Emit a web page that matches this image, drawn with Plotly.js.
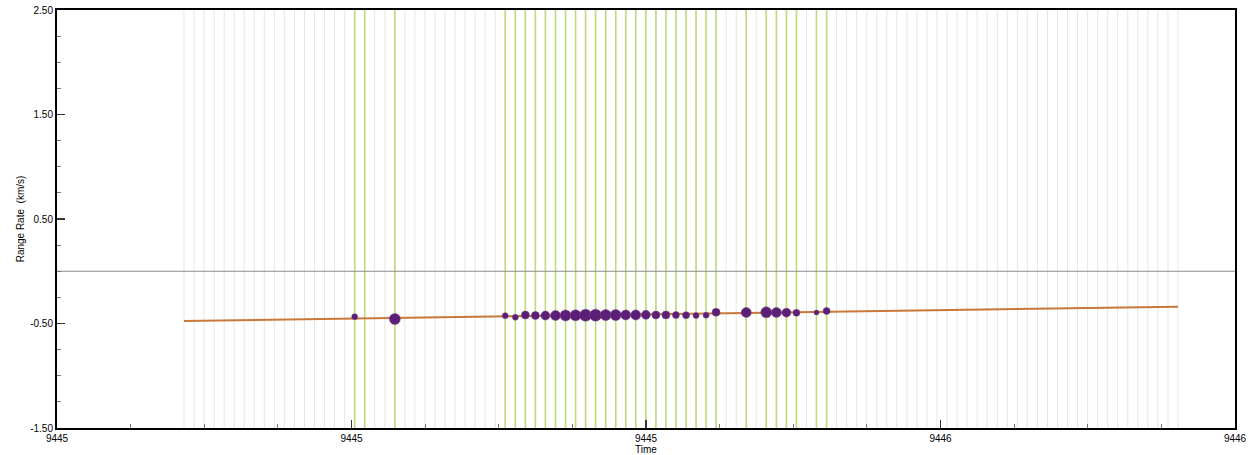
<!DOCTYPE html>
<html>
<head>
<meta charset="utf-8">
<script src="https://cdn.plot.ly/plotly-3.0.1.min.js"></script>
<style>html,body{margin:0;padding:0;background:#fff;}#chart{width:1251px;height:455px;}</style>
</head>
<body>
<div id="chart"></div>
<script>
// Observation epochs (days) — one light vertical line per epoch
const obsTime = [
  9445.1078, 9445.1163, 9445.1248, 9445.1334, 9445.1419, 9445.1504, 9445.1589, 9445.1675, 9445.1760, 9445.1845,
  9445.1930, 9445.2016, 9445.2101, 9445.2186, 9445.2271, 9445.2356, 9445.2442, 9445.2527, 9445.2612, 9445.2697,
  9445.2783, 9445.2868, 9445.2953, 9445.3038, 9445.3124, 9445.3209, 9445.3294, 9445.3379, 9445.3464, 9445.3550,
  9445.3635, 9445.3720, 9445.3805, 9445.3891, 9445.3976, 9445.4061, 9445.4146, 9445.4232, 9445.4317, 9445.4402,
  9445.4487, 9445.4572, 9445.4658, 9445.4743, 9445.4828, 9445.4913, 9445.4999, 9445.5084, 9445.5169, 9445.5254,
  9445.5340, 9445.5425, 9445.5510, 9445.5595, 9445.5680, 9445.5766, 9445.5851, 9445.5936, 9445.6021, 9445.6107,
  9445.6192, 9445.6277, 9445.6362, 9445.6447, 9445.6533, 9445.6618, 9445.6703, 9445.6788, 9445.6874, 9445.6959,
  9445.7044, 9445.7129, 9445.7215, 9445.7300, 9445.7385, 9445.7470, 9445.7555, 9445.7641, 9445.7726, 9445.7811,
  9445.7896, 9445.7982, 9445.8067, 9445.8152, 9445.8237, 9445.8323, 9445.8408, 9445.8493, 9445.8578, 9445.8663,
  9445.8749, 9445.8834, 9445.8919, 9445.9004, 9445.9090, 9445.9175, 9445.9260, 9445.9345, 9445.9431, 9445.9516
];
// Epochs with accepted measurements (highlighted green)
const usedTime = [
  9445.2527, 9445.2612, 9445.2868,
  9445.3805, 9445.3891, 9445.3976, 9445.4061, 9445.4146, 9445.4232, 9445.4317, 9445.4402, 9445.4487, 9445.4572,
  9445.4658, 9445.4743, 9445.4828, 9445.4913, 9445.4999, 9445.5084, 9445.5169, 9445.5254, 9445.5340, 9445.5425,
  9445.5510, 9445.5595,
  9445.5851, 9445.6021, 9445.6107, 9445.6192, 9445.6277, 9445.6447, 9445.6533
];
// Measured range rate (km/s) and weights
const measTime = [
  9445.2527, 9445.2868,
  9445.3805, 9445.3891, 9445.3976, 9445.4061, 9445.4146, 9445.4232, 9445.4317, 9445.4402, 9445.4487, 9445.4572,
  9445.4658, 9445.4743, 9445.4828, 9445.4913, 9445.4999, 9445.5084, 9445.5169, 9445.5254, 9445.5340, 9445.5425,
  9445.5510, 9445.5595,
  9445.5851, 9445.6021, 9445.6107, 9445.6192, 9445.6277, 9445.6447, 9445.6533
];
const measRate = [
  -0.435, -0.457,
  -0.425, -0.441, -0.419, -0.423, -0.424, -0.424, -0.423, -0.422, -0.421, -0.420,
  -0.419, -0.419, -0.418, -0.418, -0.417, -0.418, -0.418, -0.419, -0.420, -0.424,
  -0.420, -0.393,
  -0.395, -0.393, -0.395, -0.396, -0.398, -0.395, -0.380
];
const measWeight = [
  6, 11,
  6, 6, 8, 8, 9, 10, 11, 11, 12, 12,
  11, 11, 10, 10, 9, 8, 8, 7, 7, 6,
  6, 8,
  10, 11, 10, 9, 7, 5, 7
];
// Fitted range-rate line
const fitTime = [9445.1078, 9445.9516];
const fitRate = [-0.476, -0.339];
// Axes
const xRange = [9445, 9446];
const yRange = [-1.5, 2.5];
const xTickVals = [9445, 9445.25, 9445.5, 9445.75, 9446];
const xTickText = ['9445', '9445', '9445', '9446', '9446'];
const yTickVals = [-1.5, -0.5, 0.5, 1.5, 2.5];
const yTickText = ['-1.50', '-0.50', '0.50', '1.50', '2.50'];

function vlines(ts) {
  const x = [], y = [];
  ts.forEach(t => { x.push(t, t, null); y.push(yRange[0], yRange[1], null); });
  return {x, y};
}
const g = vlines(obsTime), u = vlines(usedTime);

const traces = [
  {type:'scatter', mode:'lines', x:g.x, y:g.y, line:{color:'#e6e6e6', width:1}, hoverinfo:'skip', showlegend:false},
  {type:'scatter', mode:'lines', x:u.x, y:u.y, line:{color:'#bedb7c', width:1.6}, hoverinfo:'skip', showlegend:false},
  {type:'scatter', mode:'lines', x:xRange, y:[0,0], line:{color:'#8c8c8c', width:1}, hoverinfo:'skip', showlegend:false},
  {type:'scatter', mode:'lines', x:fitTime, y:fitRate, line:{color:'#c9783a', width:2}, showlegend:false},
  {type:'scatter', mode:'markers', x:measTime, y:measRate,
   marker:{size:measWeight, color:'#5c1f78', opacity:1, line:{color:'#74407e', width:0.5}}, showlegend:false}
];

const font = {family:'Liberation Sans, Arial, sans-serif', size:10, color:'#000'};
const layout = {
  width:1251, height:455,
  margin:{l:57, r:16, t:10, b:27},
  paper_bgcolor:'#fff', plot_bgcolor:'#fff',
  font: font,
  showlegend:false,
  xaxis:{
    range:xRange, showgrid:false, zeroline:false,
    showline:true, linecolor:'#000', linewidth:2, mirror:true,
    tickvals:xTickVals, ticktext:xTickText,
    ticks:'inside', ticklen:8, tickwidth:1.5, tickcolor:'#333',
    minor:{dtick:0.0625, ticks:'inside', ticklen:4, tickcolor:'#777', tickwidth:1, showgrid:false},
    tickfont:{family:font.family, size:10, color:'#000'},
    title:{text:'Time', font:{family:font.family, size:10, color:'#000'}, standoff:2},
    automargin:false
  },
  yaxis:{
    range:yRange, showgrid:false, zeroline:false,
    showline:true, linecolor:'#000', linewidth:2, mirror:true,
    tickvals:yTickVals, ticktext:yTickText,
    ticks:'inside', ticklen:8, tickwidth:1.5, tickcolor:'#333',
    minor:{dtick:0.25, tick0:-1.5, ticks:'inside', ticklen:4, tickcolor:'#777', tickwidth:1, showgrid:false},
    tickfont:{family:font.family, size:10, color:'#000'},
    title:{text:'Range Rate  (km/s)', font:{family:font.family, size:10, color:'#000'}, standoff:4},
    automargin:false
  }
};
Plotly.newPlot('chart', traces, layout, {displayModeBar:false, staticPlot:true});
</script>
</body>
</html>
